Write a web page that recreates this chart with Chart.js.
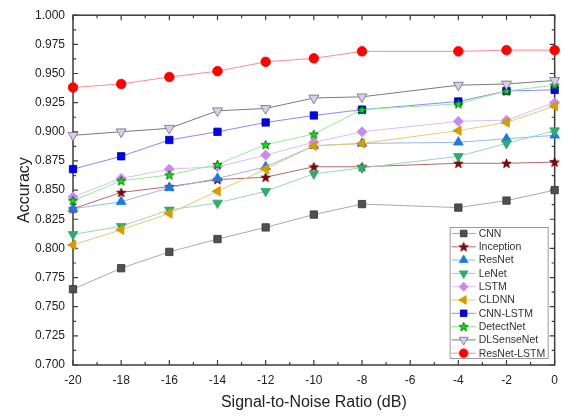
<!DOCTYPE html>
<html>
<head>
<meta charset="utf-8">
<script src="https://cdn.jsdelivr.net/npm/chart.js@4.4.0/dist/chart.umd.min.js"></script>
<style>
  body { margin: 0; background: #fff; }
  #wrap { width: 566px; height: 416px; }
</style>
</head>
<body>
<div id="wrap"><canvas id="acc" width="566" height="416"></canvas></div>
<script>
// dane
const snr = [-20, -18, -16, -14, -12, -10, -8, -4, -2, 0];
const cnn        = [0.765, 0.783, 0.797, 0.808, 0.818, 0.829, 0.838, 0.835, 0.841, 0.850];
const inception  = [0.834, 0.848, 0.853, 0.859, 0.861, 0.870, 0.870, 0.873, 0.873, 0.874];
const resnet     = [0.834, 0.840, 0.852, 0.860, 0.870, 0.888, 0.890, 0.891, 0.894, 0.897];
const lenet      = [0.812, 0.819, 0.833, 0.839, 0.849, 0.864, 0.869, 0.879, 0.890, 0.901];
const lstm       = [0.844, 0.860, 0.868, 0.870, 0.880, 0.891, 0.900, 0.909, 0.910, 0.925];
const cldnn      = [0.803, 0.816, 0.830, 0.849, 0.868, 0.888, 0.890, 0.901, 0.908, 0.922];
const cnnLstm    = [0.868, 0.879, 0.893, 0.900, 0.908, 0.914, 0.919, 0.926, 0.935, 0.936];
const detectNet  = [0.841, 0.858, 0.863, 0.872, 0.889, 0.898, 0.919, 0.924, 0.935, 0.940];
const dlSenseNet = [0.897, 0.900, 0.903, 0.918, 0.920, 0.929, 0.930, 0.940, 0.941, 0.944];
const resnetLstm = [0.938, 0.941, 0.947, 0.952, 0.960, 0.963, 0.969, 0.969, 0.970, 0.970];

const yTicks = [0.700, 0.725, 0.750, 0.775, 0.800, 0.825, 0.850, 0.875, 0.900, 0.925, 0.950, 0.975, 1.000];
const xTicks = [-20, -18, -16, -14, -12, -10, -8, -6, -4, -2, 0];

// gwiazdka jako obrazek (Chart.js nie ma wypelnionej gwiazdy)
function makeStar(fill, stroke, size) {
  const c = document.createElement('canvas');
  c.width = size; c.height = size;
  const g = c.getContext('2d');
  const m = size / 2;
  g.beginPath();
  for (let i = 0; i < 10; i++) {
    const r = i % 2 === 0 ? m - 0.6 : (m - 0.6) * 0.42;
    const a = -Math.PI / 2 + i * Math.PI / 5;
    const px = m + r * Math.cos(a), py = m + 0.4 + r * Math.sin(a);
    if (i === 0) g.moveTo(px, py); else g.lineTo(px, py);
  }
  g.closePath();
  g.fillStyle = fill; g.fill();
  g.lineWidth = 0.8; g.strokeStyle = stroke; g.stroke();
  return c;
}

function series(label, values, fill, border, line, style, radius, rot) {
  return {
    label: label,
    data: values.map((v, i) => ({ x: snr[i], y: v })),
    borderColor: line,
    borderWidth: 1,
    backgroundColor: fill,
    pointBackgroundColor: fill,
    pointBorderColor: border,
    pointBorderWidth: 0.8,
    pointStyle: style,
    pointRadius: radius,
    pointRotation: rot || 0,
    pointHoverRadius: radius,
    clip: false,
    tension: 0
  };
}

const datasets = [
  series('CNN', cnn, '#505050', '#333333', '#aaaaaa', 'rect', 5.2),
  series('Inception', inception, '#8b0000', '#5a0000', '#b46a6a', makeStar('#8b0000', '#5a0000', 11), 5.5),
  series('ResNet', resnet, '#1f78e0', '#1f78e0', '#8fbbef', 'triangle', 5.6),
  series('LeNet', lenet, '#2fac6c', '#2fac6c', '#9ad6b6', 'triangle', 5.6, 180),
  series('LSTM', lstm, '#c58cf0', '#c58cf0', '#ddbdf4', 'rectRot', 5),
  series('CLDNN', cldnn, '#d49c00', '#d49c00', '#e8c970', 'triangle', 5.6, 270),
  series('CNN-LSTM', cnnLstm, '#0000ff', '#000080', '#8a8aff', 'rect', 5.2),
  series('DetectNet', detectNet, '#00ee00', '#006400', '#8fef8f', makeStar('#00ee00', '#005000', 11), 5.5),
  series('DLSenseNet', dlSenseNet, '#dccaf2', '#6e6e6e', '#7a7a7a', 'triangle', 5.8, 180),
  series('ResNet-LSTM', resnetLstm, '#ff0000', '#ff0000', '#ff8c8c', 'circle', 4.8)
];
// pozniejsze serie na wierzchu
datasets.forEach((d, i) => { d.order = -i; });

// ramka z wewnetrznymi znacznikami
const framePlugin = {
  id: 'frame',
  beforeDatasetsDraw(chart) {
    const ctx = chart.ctx, a = chart.chartArea;
    const xs = chart.scales.x, ys = chart.scales.y;
    ctx.save();
    ctx.strokeStyle = '#3c3c3c';
    ctx.lineWidth = 1.5;
    ctx.strokeRect(a.left, a.top, a.right - a.left, a.bottom - a.top);
    ctx.lineWidth = 1.2;
    ctx.beginPath();
    for (let v = -20; v <= 0; v++) {
      const px = xs.getPixelForValue(v);
      const len = v % 2 === 0 ? 5 : 3;
      ctx.moveTo(px, a.bottom); ctx.lineTo(px, a.bottom - len);
      ctx.moveTo(px, a.top); ctx.lineTo(px, a.top + len);
    }
    for (let k = 0; k <= 24; k++) {
      const py = ys.getPixelForValue(0.7 + k * 0.0125);
      const len = k % 2 === 0 ? 5 : 3;
      ctx.moveTo(a.left, py); ctx.lineTo(a.left + len, py);
      ctx.moveTo(a.right, py); ctx.lineTo(a.right - len, py);
    }
    ctx.stroke();
    ctx.restore();
  },
  afterDraw(chart) {
    // legenda w prawym dolnym rogu
    const ctx = chart.ctx, a = chart.chartArea;
    const bx = a.right - 105, by = a.bottom - 138, bw = 98, bh = 131;
    ctx.save();
    ctx.fillStyle = '#ffffff';
    ctx.fillRect(bx, by, bw, bh);
    ctx.strokeStyle = '#9a9a9a';
    ctx.lineWidth = 1;
    ctx.strokeRect(bx + 0.5, by + 0.5, bw, bh);
    ctx.font = '10.5px "Liberation Sans", Arial, sans-serif';
    ctx.textBaseline = 'middle';
    chart.data.datasets.forEach((d, i) => {
      const cy = by + 6.5 + i * 13.3;
      ctx.strokeStyle = d.borderColor;
      ctx.lineWidth = 1;
      ctx.beginPath();
      ctx.moveTo(bx + 2, cy); ctx.lineTo(bx + 26, cy);
      ctx.stroke();
      ctx.fillStyle = d.pointBackgroundColor;
      ctx.strokeStyle = d.pointBorderColor;
      ctx.lineWidth = d.pointBorderWidth;
      Chart.helpers.drawPoint(ctx, {
        pointStyle: d.pointStyle, rotation: d.pointRotation,
        radius: d.pointRadius * 0.9, borderWidth: d.pointBorderWidth
      }, bx + 14, cy);
      ctx.fillStyle = '#333333';
      ctx.fillText(d.label, bx + 29, cy + 0.5);
    });
    ctx.restore();
  }
};

const font = '"Liberation Sans", Arial, sans-serif';

new Chart(document.getElementById('acc'), {
  type: 'line',
  data: { datasets: datasets },
  options: {
    responsive: false,
    animation: false,
    layout: { padding: { left: 0, right: 7, top: 11, bottom: 0 } },
    plugins: { legend: { display: false }, tooltip: { enabled: false } },
    scales: {
      x: {
        type: 'linear',
        min: -20, max: 0,
        afterFit(s) { s.height = 51; },
        afterBuildTicks(s) { s.ticks = xTicks.map(v => ({ value: v })); },
        grid: { display: false, drawTicks: false },
        border: { display: false },
        ticks: { padding: 8, color: '#222', font: { family: font, size: 12 } },
        title: {
          display: true, text: 'Signal-to-Noise Ratio (dB)', color: '#222',
          font: { family: font, size: 16 }, padding: { top: 0, bottom: 4 }
        }
      },
      y: {
        min: 0.7, max: 1.0,
        afterFit(s) { s.width = 73; },
        afterBuildTicks(s) { s.ticks = yTicks.map(v => ({ value: v })); },
        grid: { display: false, drawTicks: false },
        border: { display: false },
        ticks: {
          padding: 8, color: '#222', font: { family: font, size: 12 },
          callback: v => Number(v).toFixed(3)
        },
        title: {
          display: true, text: 'Accuracy', color: '#222',
          font: { family: font, size: 16 }, padding: { top: 15, bottom: 0 }
        }
      }
    }
  },
  plugins: [framePlugin]
});
</script>
</body>
</html>
